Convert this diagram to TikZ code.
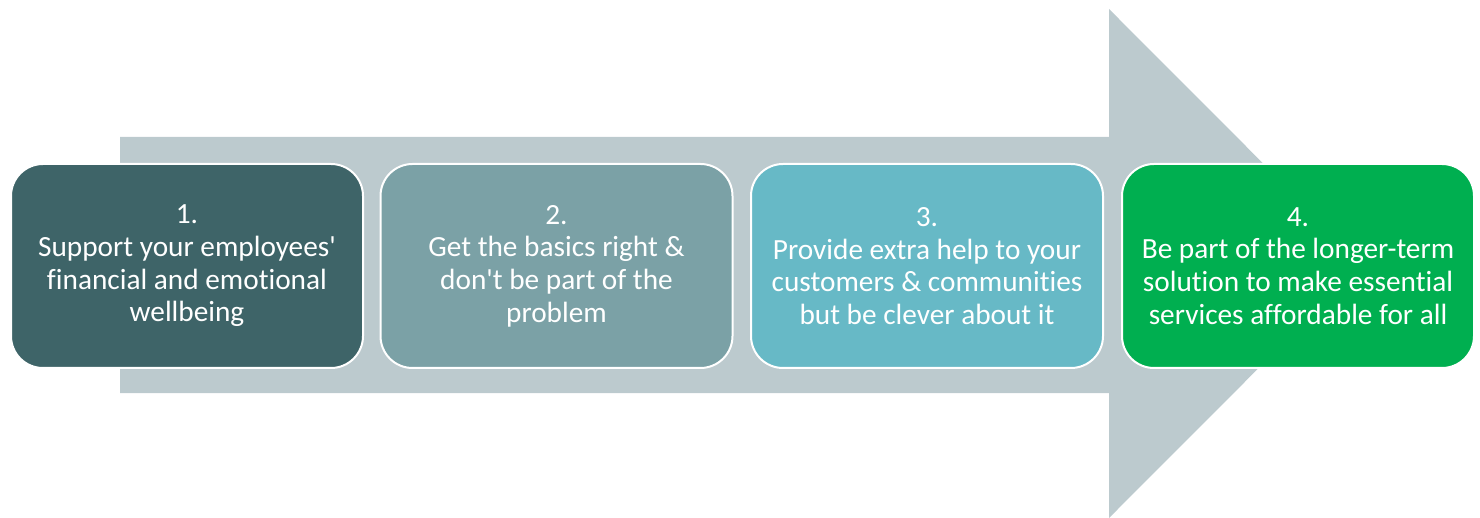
\documentclass[tikz,border=0pt]{standalone}
\usepackage{fontspec}
\setmainfont{Carlito}[Ligatures={NoCommon}]
\usepackage{tikz}

\definecolor{arrowgrey}{HTML}{BCCACE}
\definecolor{stepA}{HTML}{3E6468}
\definecolor{stepB}{HTML}{7BA1A6}
\definecolor{stepC}{HTML}{67B9C6}
\definecolor{stepD}{HTML}{00AF50}

\tikzset{
    stage/.style={rectangle, rounded corners=32pt, draw=white, line width=2pt,
        minimum width=352pt, minimum height=204pt, align=center, text=white,
        font=\fontsize{29.3}{32.7}\selectfont}
}

\begin{document}
\begin{tikzpicture}[x=1pt, y=-1pt]
    \useasboundingbox (0,0) rectangle (1480,518);

    % Draw big arrow behind
    \fill[arrowgrey] (120,137) -- (1109,137) -- (1109,9) -- (1363,263.5)
        -- (1109,518) -- (1109,393) -- (120,393) -- cycle;

    % Define nodes
    \node[stage, fill=stepA] (B1) at (187,266) {1.\\Support your employees\textquotesingle\\financial and emotional\\wellbeing};
    \node[stage, fill=stepB] (B2) at (556.5,266) {2.\\Get the basics right \&\\don\textquotesingle t be part of the\\problem};
    \node[stage, fill=stepC] (B3) at (927,266) {3.\\Provide extra help to your\\customers \& communities\\but be clever about it};
    \node[stage, fill=stepD] (B4) at (1298,266) {4.\\Be part of the longer-term\\solution to make essential\\services affordable for all};
\end{tikzpicture}
\end{document}
